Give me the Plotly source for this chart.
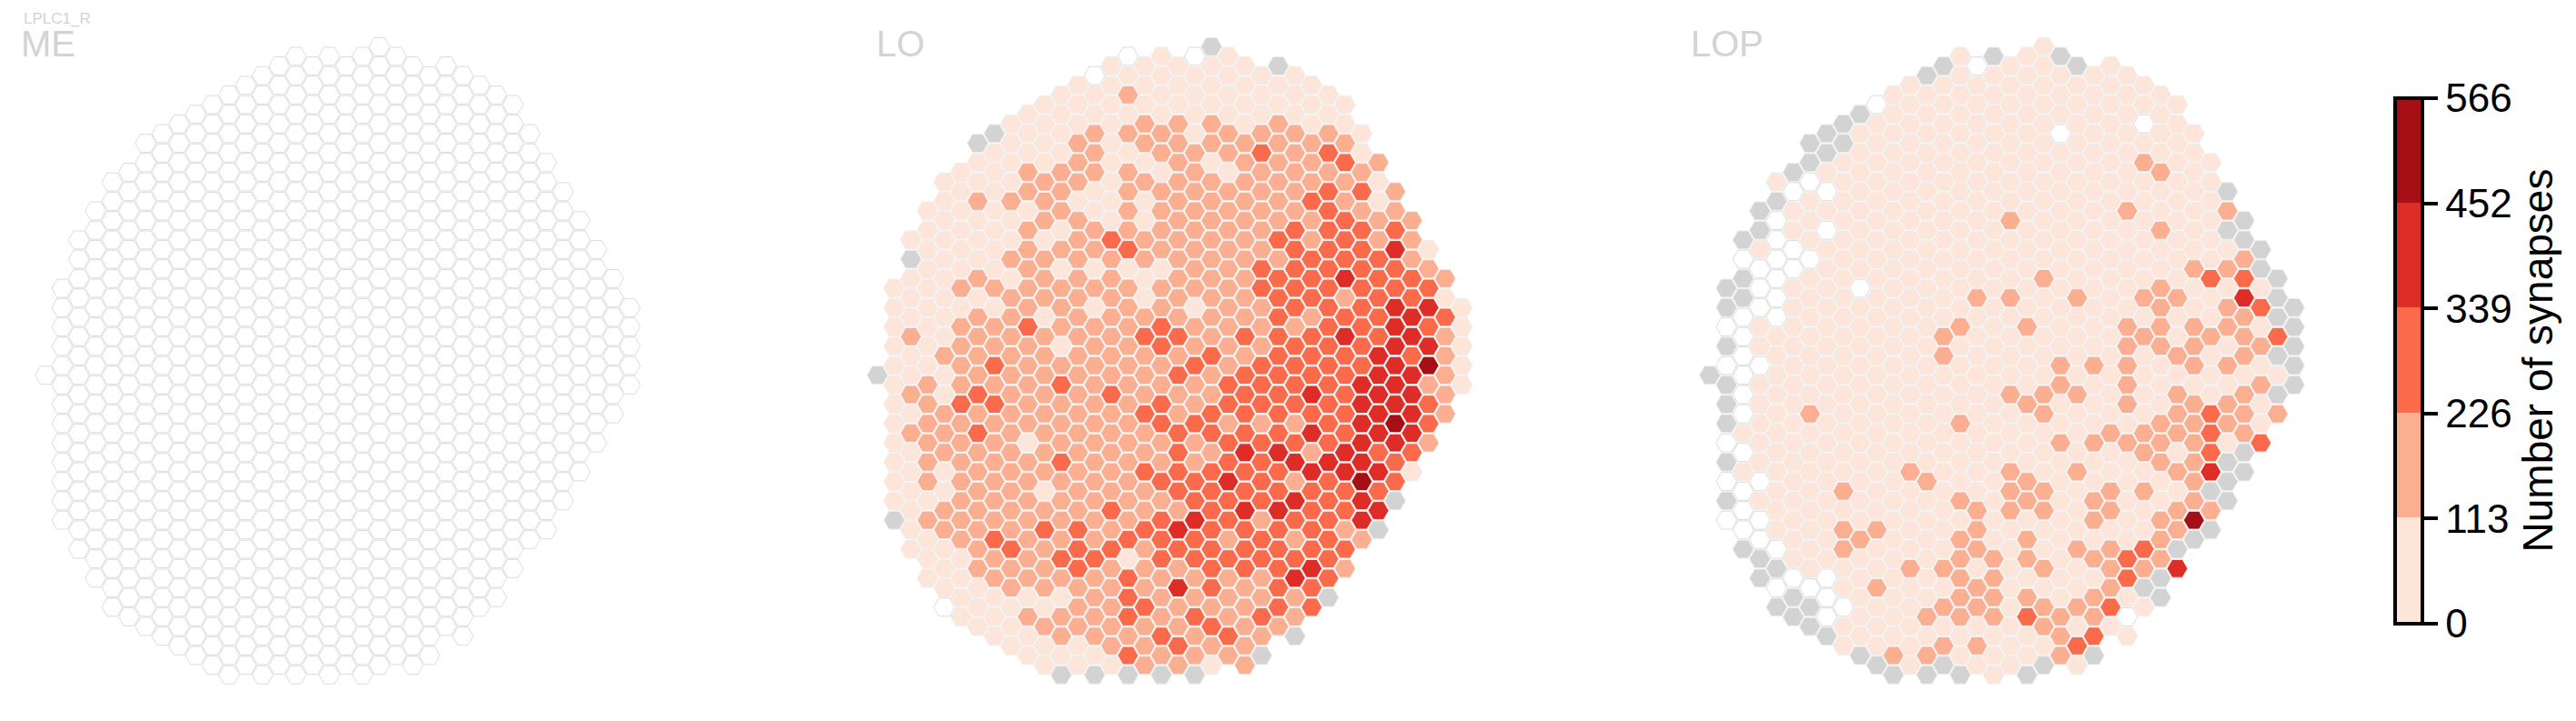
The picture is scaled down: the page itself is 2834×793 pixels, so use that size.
import plotly.graph_objects as go

# Hexagonal lattice: column index, topmost half-row index of each column
COL_TOP = [0, 9, 14, 17, 20, 21, 24, 25, 26, 27, 28, 29, 30, 31, 32, 33, 32, 33,
           32, 33, 34, 33, 32, 31, 32, 31, 30, 29, 28, 25, 22, 19, 16, 13, 10, 7]

# Class of every cell, column by column, top to bottom.
# 0 = zero synapses, 1..5 = colourbar band, G = no data
LO_COLS = [
    "G",
    "1"*12 + "G",
    "1G111211212111111",
    "1"*9 + "2"*6 + "12111",
    "1"*9 + "2" + "11" + "222" + "11" + "22" + "111" + "0",
    "1"*6 + "21" + "222" + "23" + "2"*7 + "1111",
    "G11" + "2" + "111" + "21" + "222" + "2323" + "2"*7 + "111",
    "G" + "1"*7 + "21" + "22" + "323" + "2"*6 + "3" + "22" + "111",
    "1111" + "2" + "11" + "21" + "2222" + "2"*9 + "3" + "22" + "111",
    "111" + "22" + "1" + "22222" + "3" + "22" + "222" + "1" + "2"*7 + "1" + "2" + "11",
    "1111" + "222" + "1" + "222" + "1" + "22" + "222222" + "1" + "2" + "3" + "222" + "1" + "2" + "11",
    "1111" + "222" + "1" + "2" + "1" + "222" + "1" + "2" + "3" + "222" + "3" + "2222" + "3" + "2" + "1" + "22" + "1" + "G",
    "111" + "222" + "1" + "2"*8 + "2"*8 + "333" + "222" + "11",
    "0" + "11" + "222" + "11" + "22" + "1" + "2" + "1" + "222" + "2"*9 + "3" + "2222" + "1" + "G",
    "1"*9 + "3" + "222222" + "2" + "3" + "2"*5 + "3" + "2" + "3" + "22222" + "1",
    "0" + "1" + "2" + "1" + "2" + "1" + "2222" + "3" + "1" + "22222" + "2"*8 + "3" + "1" + "333" + "2" + "3" + "G",
    "111" + "22" + "1" + "2" + "11" + "22" + "11" + "2" + "3" + "2" + "22" + "3" + "22" + "3" + "22" + "3" + "222" + "3" + "222",
    "1111" + "22" + "1" + "2222" + "1" + "22" + "33" + "2" + "2" + "33" + "22" + "3" + "2" + "333" + "222" + "3" + "2" + "G",
    "111" + "2"*11 + "3" + "2" + "3" + "22" + "3333" + "2" + "4" + "3" + "2" + "4" + "22" + "3" + "2",
    "0" + "1111" + "2"*8 + "1" + "22" + "3" + "22" + "3" + "22" + "33" + "4" + "33" + "22" + "3" + "22" + "G",
    "G" + "111" + "22" + "1" + "2"*9 + "3" + "22" + "33" + "2" + "3"*7 + "2" + "3" + "2" + "1",
    "1111" + "22" + "1" + "2"*10 + "33" + "2" + "33" + "4" + "33" + "2" + "3" + "222" + "3" + "2",
    "1111" + "2"*10 + "3" + "2" + "3333" + "4" + "33" + "4" + "333" + "2"*5,
    "111" + "2" + "3" + "2"*5 + "33" + "222" + "3" + "33" + "2" + "3333" + "2" + "33" + "22" + "3" + "2" + "G",
    "G" + "11" + "2"*6 + "3" + "2" + "3"*5 + "3333" + "4" + "33" + "4" + "3"*5 + "2",
    "111" + "22222" + "33333" + "2" + "33" + "33" + "2" + "3" + "4" + "2" + "4" + "3" + "2" + "3" + "4" + "22" + "G",
    "111" + "222" + "3" + "22" + "333" + "2" + "33" + "3" + "4" + "3" + "4" + "2" + "4" + "3333" + "4" + "33",
    "11" + "2" + "3" + "2" + "3"*10 + "3333" + "4" + "3"*6 + "G",
    "11" + "2" + "3" + "22" + "333" + "4" + "2" + "3" + "4" + "3" + "3333" + "44" + "33" + "2" + "3" + "2",
    "11" + "2" + "3" + "2" + "3"*8 + "44444" + "5" + "44" + "2",
    "2" + "11" + "22" + "33333" + "4" + "4444" + "3" + "4" + "3" + "4" + "G",
    "22" + "3" + "4" + "33" + "4444" + "44" + "5" + "4" + "33" + "G",
    "222" + "33" + "44" + "3" + "4444" + "3" + "1",
    "12343452332",
    "21322222",
    "11111",
]

LOP_COLS = [
    "G",
    "GG0G0GGG0G0G0",
    "G0GG000000101000G",
    "GG1000110111110100GG",
    "1G000000111" + "1"*8 + "0G0G",
    "G0" + "11" + "00" + "1"*15 + "0GG",
    "GG0" + "111" + "0" + "1"*7 + "2" + "1"*8 + "0GG",
    "GG1010" + "1"*17 + "000G",
    "GG" + "1"*17 + "2122" + "11011",
    "G" + "1"*8 + "0" + "1"*12 + "2" + "1"*5 + "G",
    "0" + "1"*21 + "2" + "11" + "2" + "111" + "G",
    "1"*29 + "2G",
    "1"*20 + "2" + "1"*4 + "2" + "1"*5,
    "G" + "1"*20 + "2" + "1"*6 + "212G",
    "G" + "1"*13 + "22" + "1"*10 + "21212G",
    "1"*14 + "2" + "1"*4 + "2" + "111" + "2" + "1" + "22222" + "11" + "G",
    "0" + "1"*11 + "2" + "1"*10 + "222" + "1" + "22" + "1" + "2" + "1",
    "G" + "1"*25 + "2222" + "111",
    "1"*8 + "2" + "111" + "2" + "1111" + "2" + "111" + "222" + "1"*8,
    "1"*14 + "2" + "111" + "2" + "111" + "22" + "1" + "22" + "1" + "2" + "3" + "11" + "G",
    "1"*12 + "2" + "1"*5 + "22" + "111" + "22" + "11" + "2" + "1" + "22" + "1" + "G",
    "G" + "111" + "0" + "1"*11 + "22" + "11" + "2" + "1"*8 + "222",
    "G" + "1"*11 + "2" + "1111" + "2" + "111" + "2" + "111" + "2" + "11" + "2" + "1" + "3" + "1",
    "1"*15 + "2" + "111" + "2" + "11" + "22" + "1" + "2" + "1" + "22" + "3" + "G",
    "1"*19 + "2" + "11" + "22" + "1" + "222" + "3" + "1",
    "1"*7 + "2" + "1"*5 + "222" + "22" + "1" + "2" + "1"*5 + "33" + "1" + "0" + "1",
    "11" + "0" + "1" + "2" + "1"*6 + "2" + "1" + "2" + "1111" + "22" + "1" + "2" + "11" + "3" + "2" + "G" + "1",
    "1111" + "2" + "11" + "2" + "11" + "2222" + "111" + "222" + "11" + "222" + "GG",
    "1"*10 + "2" + "11" + "2" + "1" + "222" + "1" + "2" + "1" + "22" + "G" + "4",
    "1"*7 + "2" + "11" + "222" + "1" + "2"*6 + "5" + "G",
    "1"*6 + "3" + "11" + "2" + "111" + "333" + "4" + "G" + "2" + "G",
    "G2G12122121221GGG",
    "GG2342221222GG",
    "GG131212113",
    "GGG3G1G2",
    "GGGGG",
]
ME_COLS = ["0" * len(c) for c in LO_COLS]

# Representative synapse count of each class
CLASS_VALUE = {"0": 0, "1": 56, "2": 170, "3": 282, "4": 395, "5": 509}

REDS = ["#fee5d9", "#fcae91", "#fb6a4a", "#de2d26", "#a50f15"]
BAND_TICKS = [0, 113, 226, 339, 452, 566]
PANEL_NAMES = ["ME", "LO", "LOP"]
PANEL_LEFT = [50.0, 965.4, 1881.0]   # pixel of column 0

W, H = 2834, 793
DX, DY = 18.37, 10.63
Y0 = 412.7
MSIZE = 22.9
LINE_W = 1.0

scale = []
for i, c in enumerate(REDS):
    scale += [[i / 5, c], [(i + 1) / 5, c]]


def cells(cols):
    xs, ys, zs = [], [], []
    for c, s in enumerate(cols):
        for k, ch in enumerate(s):
            xs.append(c)
            ys.append(COL_TOP[c] - 2 * k)
            zs.append(ch)
    return xs, ys, zs


for nm, cl in (("LO", LO_COLS), ("LOP", LOP_COLS)):
    for c, s in enumerate(cl):
        expected = len(LO_COLS[c])
        if len(s) != expected:
            raise SystemExit(f"{nm} col {c}: {len(s)} != {expected}")

fig = go.Figure()
panels = [ME_COLS, LO_COLS, LOP_COLS]
first = True
for p, cols in enumerate(panels):
    xs, ys, zs = cells(cols)
    ax = "" if p == 0 else str(p + 1)
    xa, ya = f"x{ax}", f"y{ax}"
    L = PANEL_LEFT[p]
    span = PANEL_LEFT[p + 1] - PANEL_LEFT[p] if p < 2 else 915.6
    d0 = (L - 50.0) / W
    d1 = (L - 50.0 + span) / W
    fig.update_layout(**{
        f"xaxis{ax}": dict(domain=[d0, d1], range=[-50.0 / DX, (span - 50.0) / DX],
                           visible=False, fixedrange=True),
        f"yaxis{ax}": dict(domain=[0, 1], range=[-(H - Y0) / DY, Y0 / DY],
                           visible=False, fixedrange=True),
    })
    # no-data cells
    gx = [x for x, z in zip(xs, zs) if z == "G"]
    gy = [y for y, z in zip(ys, zs) if z == "G"]
    if gx:
        fig.add_trace(go.Scatter(x=gx, y=gy, xaxis=xa, yaxis=ya, mode="markers", showlegend=False,
                                 marker=dict(symbol="hexagon2", size=MSIZE, color="#d3d3d3",
                                             line=dict(color="#eeeeee", width=LINE_W))))
    # zero cells
    wx = [x for x, z in zip(xs, zs) if z == "0"]
    wy = [y for y, z in zip(ys, zs) if z == "0"]
    if wx:
        fig.add_trace(go.Scatter(x=wx, y=wy, xaxis=xa, yaxis=ya, mode="markers", showlegend=False,
                                 marker=dict(symbol="hexagon2", size=MSIZE, color="#ffffff",
                                             line=dict(color="#dcdcdc", width=LINE_W))))
    # counted cells
    cx = [x for x, z in zip(xs, zs) if z not in "G0"]
    cy = [y for y, z in zip(ys, zs) if z not in "G0"]
    cv = [CLASS_VALUE[z] for z in zs if z not in "G0"]
    if cx:
        marker = dict(symbol="hexagon2", size=MSIZE, color=cv, colorscale=scale, cmin=0, cmax=566,
                      line=dict(color="#eeeeee", width=LINE_W), showscale=first)
        if first:
            marker["colorbar"] = dict(
                tickmode="array", tickvals=BAND_TICKS, ticktext=[str(t) for t in BAND_TICKS],
                thicknessmode="pixels", thickness=30, lenmode="pixels", len=578,
                x=2635 / W, xanchor="left", xpad=0, y=1 - 396.5 / H, yanchor="middle", ypad=0,
                outlinewidth=4, outlinecolor="black", ticks="outside", ticklen=15, tickwidth=4,
                tickcolor="black", tickfont=dict(family="Liberation Sans", size=44, color="black"),
                title=dict(text="Number of synapses", side="right",
                           font=dict(family="Liberation Sans", size=46, color="black")),
            )
            first = False
        fig.add_trace(go.Scatter(x=cx, y=cy, xaxis=xa, yaxis=ya, mode="markers", showlegend=False,
                                 marker=marker))

annotations = []
title_x = [21, 962, 1858]
for nm, tx in zip(PANEL_NAMES, title_x):
    annotations.append(dict(text=nm, x=tx / W, y=1 - 48 / H, xref="paper", yref="paper", xanchor="left",
                            yanchor="middle", showarrow=False,
                            font=dict(family="Liberation Sans", size=40, color="#d3d3d3")))
annotations.append(dict(text="LPLC1_R", x=24 / W, y=1 - 21 / H, xref="paper", yref="paper", xanchor="left",
                        yanchor="middle", showarrow=False,
                        font=dict(family="Liberation Sans", size=17, color="#d3d3d3")))

fig.update_layout(width=W, height=H, margin=dict(l=0, r=0, t=0, b=0), paper_bgcolor="white",
                  plot_bgcolor="white", annotations=annotations, showlegend=False)
fig.write_html("out.html", config=dict(displayModeBar=False),
               post_script="document.body.style.margin='0';")
